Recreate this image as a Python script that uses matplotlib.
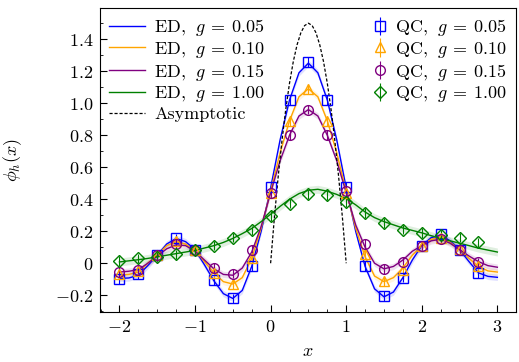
import numpy as np
import matplotlib
matplotlib.use("Agg")
import matplotlib.pyplot as plt
from matplotlib.ticker import MultipleLocator

plt.rcParams['font.family'] = 'serif'
plt.rcParams['font.serif'] = ['cmr10']
plt.rcParams['mathtext.fontset'] = 'cm'
plt.rcParams['axes.formatter.use_mathtext'] = True
plt.rcParams['font.size'] = 13

# ED curves sampled every 0.125
x_ed = np.arange(-2.0, 3.0001, 0.125)
ed_005 = [-0.095, -0.092, -0.075, -0.015, 0.05, 0.12, 0.155, 0.135, 0.085, -0.01, -0.11, -0.19, -0.22,
          -0.17, -0.02, 0.20, 0.47, 0.77, 1.02, 1.19, 1.25, 1.19, 1.02, 0.77, 0.47, 0.20, -0.02, -0.16,
          -0.21, -0.18, -0.09, 0.02, 0.11, 0.16, 0.175, 0.14, 0.085, 0.01, -0.06, -0.082, -0.088]
ed_010 = [-0.075, -0.07, -0.055, 0.0, 0.05, 0.11, 0.135, 0.12, 0.08, 0.01, -0.06, -0.115, -0.13,
          -0.09, 0.03, 0.22, 0.45, 0.69, 0.89, 1.04, 1.09, 1.04, 0.89, 0.69, 0.45, 0.22, 0.04, -0.08,
          -0.115, -0.09, -0.03, 0.05, 0.11, 0.15, 0.16, 0.13, 0.085, 0.03, -0.02, -0.048, -0.055]
ed_015 = [-0.055, -0.05, -0.04, 0.0, 0.045, 0.09, 0.115, 0.11, 0.075, 0.02, -0.035, -0.07, -0.075,
          -0.03, 0.07, 0.23, 0.44, 0.64, 0.80, 0.92, 0.96, 0.92, 0.80, 0.64, 0.44, 0.24, 0.10, 0.0,
          -0.035, -0.02, 0.02, 0.075, 0.11, 0.14, 0.15, 0.125, 0.085, 0.045, 0.01, -0.015, -0.025]
ed_100 = [0.008, 0.015, 0.022, 0.03, 0.04, 0.05, 0.06, 0.07, 0.08, 0.095, 0.11, 0.13, 0.155,
          0.185, 0.217, 0.26, 0.306, 0.355, 0.40, 0.435, 0.456, 0.462, 0.45, 0.43, 0.404, 0.365, 0.32,
          0.285, 0.26, 0.24, 0.22, 0.205, 0.19, 0.172, 0.155, 0.14, 0.125, 0.11, 0.094, 0.082, 0.07]
band_w = [0.02, 0.02, 0.02, 0.025]

# QC points every 0.25
x_qc = np.arange(-2.0, 2.7501, 0.25)
qc_005 = [-0.10, -0.07, 0.05, 0.155, 0.085, -0.106, -0.22, -0.02, 0.477, 1.02, 1.258, 1.02, 0.477,
          -0.017, -0.206, -0.09, 0.11, 0.18, 0.085, -0.06]
qc_010 = [-0.07, -0.05, 0.05, 0.14, 0.08, -0.06, -0.13, 0.03, 0.44, 0.89, 1.09, 0.89, 0.44,
          0.056, -0.11, -0.04, 0.11, 0.16, 0.09, -0.02]
qc_015 = [-0.055, -0.04, 0.05, 0.12, 0.08, -0.03, -0.065, 0.085, 0.44, 0.80, 0.96, 0.80, 0.45,
          0.12, -0.035, 0.01, 0.11, 0.15, 0.085, 0.005]
qc_100 = [0.013, 0.03, 0.04, 0.055, 0.085, 0.11, 0.16, 0.205, 0.294, 0.373, 0.43, 0.425, 0.383,
          0.314, 0.25, 0.21, 0.19, 0.175, 0.16, 0.13]
qc_err = [0.03, 0.03, 0.03, 0.03]

# asymptotic form on [0, 1]
x_asy = np.arange(0.0, 1.0001, 0.05)
asy = [0.0, 0.285, 0.54, 0.765, 0.96, 1.125, 1.26, 1.365, 1.44, 1.485, 1.5,
       1.485, 1.44, 1.365, 1.26, 1.125, 0.96, 0.765, 0.54, 0.285, 0.0]

g_labels = ['0.05', '0.10', '0.15', '1.00']
colors = ['blue', 'orange', 'purple', 'green']
markers = ['s', '^', 'o', 'D']

fig = plt.figure(figsize=(5.19, 3.62), dpi=100)
ax = fig.add_axes([0.193, 0.138, 0.801, 0.840])

ed_all = [ed_005, ed_010, ed_015, ed_100]
qc_all = [qc_005, qc_010, qc_015, qc_100]

ed_handles = []
qc_handles = []
for ed, qc, w, e, c, m, g in zip(ed_all, qc_all, band_w, qc_err, colors, markers, g_labels):
    ed = np.array(ed)
    ax.fill_between(x_ed, ed - w, ed + w, color=c, alpha=0.12, lw=0)
    h, = ax.plot(x_ed, ed, color=c, lw=1.0, label=r'ED, $\;g\:=\:%s$' % g)
    ed_handles.append(h)
    ms = 6 if m == 'D' else 7
    hq = ax.errorbar(x_qc, qc, yerr=e, fmt=m, color=c, mfc='none', ms=ms, mew=1.0,
                     elinewidth=0.8, capsize=0, label=r'QC, $\;g\:=\:%s$' % g)
    qc_handles.append(hq)

ha, = ax.plot(x_asy, asy, 'k--', lw=0.9, dashes=(2.5, 1.5), label='Asymptotic')
ed_handles.append(ha)

ax.set_xlim(-2.255, 3.245)
ax.set_ylim(-0.305, 1.595)
ax.xaxis.set_major_locator(MultipleLocator(1))
ax.xaxis.set_minor_locator(MultipleLocator(0.25))
ax.yaxis.set_major_locator(MultipleLocator(0.2))
ax.yaxis.set_minor_locator(MultipleLocator(0.1))
ax.tick_params(which='both', direction='in')
ax.tick_params(which='major', length=5, pad=5)
ax.tick_params(which='minor', length=2.5)
ax.set_yticks([-0.2, 0, 0.2, 0.4, 0.6, 0.8, 1.0, 1.2, 1.4])
ax.set_yticklabels([r'$-0.2$', r'$0$', r'$0.2$', r'$0.4$', r'$0.6$', r'$0.8$', r'$1.0$', r'$1.2$', r'$1.4$'])
ax.set_xlabel(r'$x$', labelpad=6)
ax.set_ylabel(r'$\phi_h(x)$', labelpad=22)

leg1 = ax.legend(handles=ed_handles, loc='upper left', frameon=False, handlelength=2.0,
                 borderaxespad=0.2, borderpad=0.3, labelspacing=0.1, handletextpad=0.5)
ax.add_artist(leg1)
ax.legend(handles=qc_handles, loc='upper right', frameon=False, handlelength=0.8,
          borderaxespad=0.2, borderpad=0.3, labelspacing=0.1, handletextpad=0.4)

fig.savefig('out.png', dpi=100)
